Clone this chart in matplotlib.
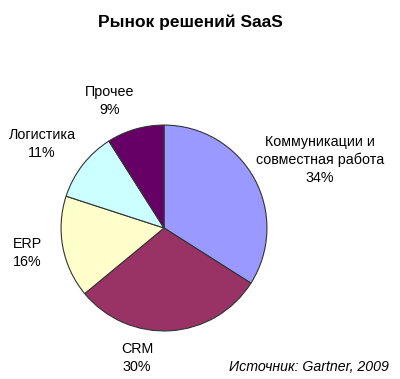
import matplotlib.pyplot as plt

plt.rcParams['font.family'] = ['Liberation Sans', 'DejaVu Sans']

labels = ['Коммуникации и\nсовместная работа', 'CRM', 'ERP', 'Логистика', 'Прочее']
shares = [34, 30, 16, 11, 9]
colors = ['#9999FF', '#993366', '#FFFFCC', '#CCFFFF', '#660066']
# label centres in pixels (x, y from top)
label_pos = [(320, 160), (137, 358), (27, 253), (42, 144), (110, 101)]

W, H = 400, 379
fig = plt.figure(figsize=(4, 3.79), dpi=100)
fig.patch.set_facecolor('white')

# pie centre (164, 228) px, radius 105 px
ax = fig.add_axes([(164 - 105) / W, 1 - (228 + 105) / H, 210 / W, 210 / H])
ax.pie(shares, colors=colors, startangle=90, counterclock=False, radius=1,
       wedgeprops=dict(edgecolor='#333333', linewidth=0.8))
ax.set_xlim(-1.02, 1.02)
ax.set_ylim(-1.02, 1.02)
ax.set_aspect('equal')
ax.axis('off')

for lab, val, (px, py) in zip(labels, shares, label_pos):
    fig.text(px / W, 1 - py / H, f'{lab}\n{val}%', ha='center', va='center',
             fontsize=10.3, linespacing=1.35, color='black')

fig.text(190 / W, 1 - 22 / H, 'Рынок решений SaaS', ha='center', va='center',
         fontsize=12.5, fontweight='bold')
fig.text(389 / W, 1 - 367 / H, 'Источник: Gartner, 2009', ha='right', va='center',
         fontsize=10.2, style='italic')

fig.savefig('out.png', dpi=100, facecolor='white')
